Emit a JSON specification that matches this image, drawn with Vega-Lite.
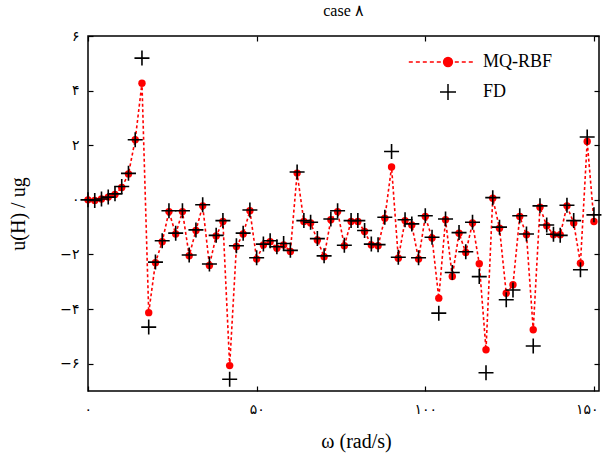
{
  "$schema": "https://vega.github.io/schema/vega-lite/v6.json",
  "width": 511,
  "height": 355,
  "autosize": "none",
  "padding": {"left": 88, "top": 36, "right": 4, "bottom": 68},
  "background": "white",
  "title": {"text": "case ۸", "fontSize": 16, "font": "Liberation Serif", "fontWeight": "normal", "offset": 10, "anchor": "middle", "color": "black"},
  "config": {
    "font": "Liberation Serif",
    "view": {"stroke": "black", "strokeWidth": 1.5},
    "axis": {"grid": false, "domain": false, "tickColor": "black", "tickSize": -5, "tickWidth": 1.2, "labelColor": "black", "labelFontSize": 14, "labelFont": "DejaVu Sans", "titleColor": "black", "titleFontWeight": "normal", "titleFontSize": 20, "titleFont": "Liberation Serif"}
  },
  "data": {"values": [
    {"w":0,"method":"MQ-RBF","u":0},{"w":2,"method":"MQ-RBF","u":-0.02},{"w":4,"method":"MQ-RBF","u":0.03},{"w":6,"method":"MQ-RBF","u":0.1},{"w":8,"method":"MQ-RBF","u":0.2},{"w":10,"method":"MQ-RBF","u":0.45},{"w":12,"method":"MQ-RBF","u":0.95},{"w":14,"method":"MQ-RBF","u":2.2},{"w":16,"method":"MQ-RBF","u":4.27},{"w":18,"method":"MQ-RBF","u":-4.13},
    {"w":20,"method":"MQ-RBF","u":-2.3},{"w":22,"method":"MQ-RBF","u":-1.53},{"w":24,"method":"MQ-RBF","u":-0.43},{"w":26,"method":"MQ-RBF","u":-1.25},{"w":28,"method":"MQ-RBF","u":-0.43},{"w":30,"method":"MQ-RBF","u":-2.05},{"w":32,"method":"MQ-RBF","u":-1.12},{"w":34,"method":"MQ-RBF","u":-0.22},{"w":36,"method":"MQ-RBF","u":-2.4},{"w":38,"method":"MQ-RBF","u":-1.32},
    {"w":40,"method":"MQ-RBF","u":-0.79},{"w":42,"method":"MQ-RBF","u":-6.07},{"w":44,"method":"MQ-RBF","u":-1.71},{"w":46,"method":"MQ-RBF","u":-1.25},{"w":48,"method":"MQ-RBF","u":-0.4},{"w":50,"method":"MQ-RBF","u":-2.17},{"w":52,"method":"MQ-RBF","u":-1.65},{"w":54,"method":"MQ-RBF","u":-1.53},{"w":56,"method":"MQ-RBF","u":-1.77},{"w":58,"method":"MQ-RBF","u":-1.65},
    {"w":60,"method":"MQ-RBF","u":-1.89},{"w":62,"method":"MQ-RBF","u":0.98},{"w":64,"method":"MQ-RBF","u":-0.79},{"w":66,"method":"MQ-RBF","u":-0.85},{"w":68,"method":"MQ-RBF","u":-1.47},{"w":70,"method":"MQ-RBF","u":-2.08},{"w":72,"method":"MQ-RBF","u":-0.73},{"w":74,"method":"MQ-RBF","u":-0.43},{"w":76,"method":"MQ-RBF","u":-1.68},{"w":78,"method":"MQ-RBF","u":-0.79},
    {"w":80,"method":"MQ-RBF","u":-0.79},{"w":82,"method":"MQ-RBF","u":-1.16},{"w":84,"method":"MQ-RBF","u":-1.65},{"w":86,"method":"MQ-RBF","u":-1.68},{"w":88,"method":"MQ-RBF","u":-0.67},{"w":90,"method":"MQ-RBF","u":1.2},{"w":92,"method":"MQ-RBF","u":-2.14},{"w":94,"method":"MQ-RBF","u":-0.76},{"w":96,"method":"MQ-RBF","u":-0.92},{"w":98,"method":"MQ-RBF","u":-2.17},
    {"w":100,"method":"MQ-RBF","u":-0.61},{"w":102,"method":"MQ-RBF","u":-1.4},{"w":104,"method":"MQ-RBF","u":-3.6},{"w":106,"method":"MQ-RBF","u":-0.73},{"w":108,"method":"MQ-RBF","u":-2.81},{"w":110,"method":"MQ-RBF","u":-1.22},{"w":112,"method":"MQ-RBF","u":-1.93},{"w":114,"method":"MQ-RBF","u":-0.85},{"w":116,"method":"MQ-RBF","u":-2.34},{"w":118,"method":"MQ-RBF","u":-5.49},
    {"w":120,"method":"MQ-RBF","u":0.06},{"w":122,"method":"MQ-RBF","u":-1.04},{"w":124,"method":"MQ-RBF","u":-3.42},{"w":126,"method":"MQ-RBF","u":-3.11},{"w":128,"method":"MQ-RBF","u":-0.61},{"w":130,"method":"MQ-RBF","u":-1.28},{"w":132,"method":"MQ-RBF","u":-4.76},{"w":134,"method":"MQ-RBF","u":-0.27},{"w":136,"method":"MQ-RBF","u":-0.95},{"w":138,"method":"MQ-RBF","u":-1.28},
    {"w":140,"method":"MQ-RBF","u":-1.28},{"w":142,"method":"MQ-RBF","u":-0.22},{"w":144,"method":"MQ-RBF","u":-0.85},{"w":146,"method":"MQ-RBF","u":-2.32},{"w":148,"method":"MQ-RBF","u":2.14},{"w":150,"method":"MQ-RBF","u":-0.79},
    {"w":0,"method":"FD","u":0},{"w":2,"method":"FD","u":-0.02},{"w":4,"method":"FD","u":0.03},{"w":6,"method":"FD","u":0.1},{"w":8,"method":"FD","u":0.22},{"w":10,"method":"FD","u":0.49},{"w":12,"method":"FD","u":0.97},{"w":14,"method":"FD","u":2.2},{"w":16,"method":"FD","u":5.19},{"w":18,"method":"FD","u":-4.66},
    {"w":20,"method":"FD","u":-2.28},{"w":22,"method":"FD","u":-1.5},{"w":24,"method":"FD","u":-0.4},{"w":26,"method":"FD","u":-1.22},{"w":28,"method":"FD","u":-0.4},{"w":30,"method":"FD","u":-2.02},{"w":32,"method":"FD","u":-1.1},{"w":34,"method":"FD","u":-0.18},{"w":36,"method":"FD","u":-2.35},{"w":38,"method":"FD","u":-1.3},
    {"w":40,"method":"FD","u":-0.76},{"w":42,"method":"FD","u":-6.57},{"w":44,"method":"FD","u":-1.68},{"w":46,"method":"FD","u":-1.22},{"w":48,"method":"FD","u":-0.37},{"w":50,"method":"FD","u":-2.12},{"w":52,"method":"FD","u":-1.62},{"w":54,"method":"FD","u":-1.5},{"w":56,"method":"FD","u":-1.72},{"w":58,"method":"FD","u":-1.6},
    {"w":60,"method":"FD","u":-1.85},{"w":62,"method":"FD","u":1.02},{"w":64,"method":"FD","u":-0.76},{"w":66,"method":"FD","u":-0.82},{"w":68,"method":"FD","u":-1.42},{"w":70,"method":"FD","u":-2.05},{"w":72,"method":"FD","u":-0.7},{"w":74,"method":"FD","u":-0.4},{"w":76,"method":"FD","u":-1.66},{"w":78,"method":"FD","u":-0.76},
    {"w":80,"method":"FD","u":-0.76},{"w":82,"method":"FD","u":-1.12},{"w":84,"method":"FD","u":-1.62},{"w":86,"method":"FD","u":-1.64},{"w":88,"method":"FD","u":-0.64},{"w":90,"method":"FD","u":1.77},{"w":92,"method":"FD","u":-2.1},{"w":94,"method":"FD","u":-0.73},{"w":96,"method":"FD","u":-0.88},{"w":98,"method":"FD","u":-2.12},
    {"w":100,"method":"FD","u":-0.58},{"w":102,"method":"FD","u":-1.37},{"w":104,"method":"FD","u":-4.15},{"w":106,"method":"FD","u":-0.7},{"w":108,"method":"FD","u":-2.66},{"w":110,"method":"FD","u":-1.2},{"w":112,"method":"FD","u":-1.9},{"w":114,"method":"FD","u":-0.82},{"w":116,"method":"FD","u":-2.81},{"w":118,"method":"FD","u":-6.33},
    {"w":120,"method":"FD","u":0.08},{"w":122,"method":"FD","u":-1.0},{"w":124,"method":"FD","u":-3.66},{"w":126,"method":"FD","u":-3.3},{"w":128,"method":"FD","u":-0.58},{"w":130,"method":"FD","u":-1.25},{"w":132,"method":"FD","u":-5.35},{"w":134,"method":"FD","u":-0.22},{"w":136,"method":"FD","u":-0.92},{"w":138,"method":"FD","u":-1.26},
    {"w":140,"method":"FD","u":-1.3},{"w":142,"method":"FD","u":-0.2},{"w":144,"method":"FD","u":-0.76},{"w":146,"method":"FD","u":-2.56},{"w":148,"method":"FD","u":2.3},{"w":150,"method":"FD","u":-0.55}
  ]},
  "layer": [
    {
      "transform": [{"filter": "datum.method === 'MQ-RBF'"}],
      "mark": {"type": "line", "strokeDash": [3, 2.5], "strokeWidth": 1.6},
      "encoding": {
        "x": {"field": "w", "type": "quantitative", "scale": {"domain": [0, 151.5], "nice": false, "zero": false},
              "axis": {"orient": "bottom", "values": [0, 50, 100, 150], "labelPadding": 16, "labelFlush": 10, "labelFlushOffset": 4, "labelExpr": "datum.value == 0 ? '۰' : datum.value == 50 ? '۵۰' : datum.value == 100 ? '۱۰۰' : '۱۵۰'", "title": "ω (rad/s)", "titleX": 268, "titleY": 40, "titleBaseline": "top"}},
        "y": {"field": "u", "type": "quantitative", "scale": {"domain": [-7, 6], "nice": false, "zero": false},
              "axis": {"orient": "left", "values": [-6, -4, -2, 0, 2, 4, 6], "labelPadding": 14, "labelExpr": "(datum.value < 0 ? '−' : '') + (abs(datum.value) == 6 ? '۶' : abs(datum.value) == 4 ? '۴' : abs(datum.value) == 2 ? '۲' : '۰')", "title": "u(H) / ug", "titleX": -70, "titleBaseline": "middle"}},
        "color": {"field": "method", "type": "nominal", "scale": {"domain": ["MQ-RBF", "FD"], "range": ["#ff0000", "#000000"]}}
      }
    },
    {
      "transform": [{"filter": "datum.method === 'MQ-RBF'"}],
      "mark": {"type": "point", "filled": true, "shape": "circle", "size": 55, "opacity": 1},
      "encoding": {
        "x": {"field": "w", "type": "quantitative", "axis": null},
        "y": {"field": "u", "type": "quantitative", "axis": null},
        "color": {"field": "method", "type": "nominal"}
      }
    },
    {
      "transform": [{"filter": "datum.method === 'FD'"}],
      "mark": {"type": "point", "filled": false, "size": 225, "strokeWidth": 1.6, "opacity": 1},
      "encoding": {
        "x": {"field": "w", "type": "quantitative", "axis": {"orient": "top", "values": [0, 50, 100, 150], "labels": false, "title": null}},
        "y": {"field": "u", "type": "quantitative", "axis": {"orient": "right", "values": [-6, -4, -2, 0, 2, 4, 6], "labels": false, "title": null}},
        "color": {"field": "method", "type": "nominal"},
        "shape": {"field": "method", "type": "nominal",
          "scale": {"domain": ["MQ-RBF", "FD"], "range": ["M-4.9,0H-4.4M-4.02,0H-3.52M-3.15,0H-2.65M-2.27,0H-1.77M-1.4,0H-0.9M0.85,0H1.35M1.72,0H2.22M2.6,0H3.1M0.55,0A0.55,0.55,0,1,1,-0.55,0A0.55,0.55,0,1,1,0.55,0Z", "M-1,0H1M0,-1V1"]},
          "legend": {"orient": "none", "legendX": 351, "legendY": 17, "title": null, "padding": 0, "symbolSize": 256, "labelFontSize": 18, "labelFont": "Liberation Serif", "labelColor": "black", "labelOffset": 26, "rowPadding": 10,
            "encode": {"symbols": {"update": {
              "fill": {"signal": "datum.value === 'MQ-RBF' ? '#ff0000' : 'transparent'"},
              "stroke": {"signal": "datum.value === 'MQ-RBF' ? '#ff0000' : '#000000'"},
              "strokeWidth": {"value": 1.5},
              "opacity": {"value": 1}
            }}}}
        }
      }
    }
  ],
  "resolve": {"axis": {"x": "independent", "y": "independent"}}
}
